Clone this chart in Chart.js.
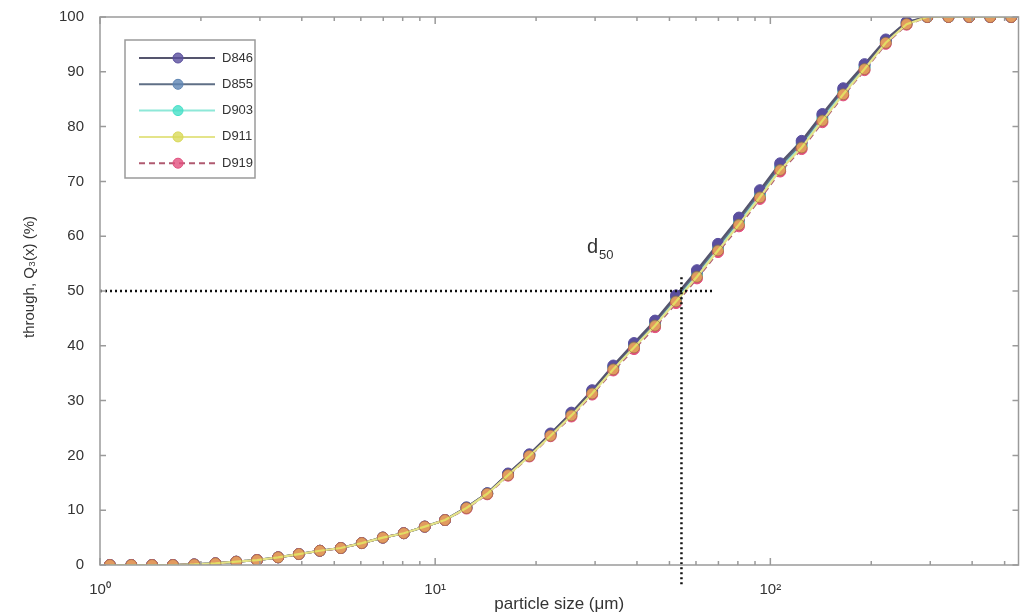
<!DOCTYPE html>
<html><head><meta charset="utf-8">
<script src="https://cdn.jsdelivr.net/npm/chart.js@4/dist/chart.umd.min.js"></script>
<style>html,body{margin:0;padding:0;background:#fff}#wrap{width:1025px;height:615px}</style>
</head><body><div id="wrap"><canvas id="c" width="1025" height="615"></canvas></div>
<script>
// particle size classes (µm)
const sizes = [1.07,1.24,1.43,1.65,1.91,2.21,2.55,2.94,3.40,3.92,4.53,5.23,6.04,6.98,8.06,9.31,
  10.7,12.4,14.3,16.5,19.1,22.1,25.5,29.4,34.0,39.2,45.3,52.3,60.4,69.8,80.6,93.1,
  107,124,143,165,191,221,255,294,340,392,453,523];
const seriesNames = ['D846','D855','D903','D911','D919'];
const d846 = [0,0,0,0,0.1,0.3,0.6,0.9,1.4,2.0,2.6,3.1,4.0,5.0,5.8,7.0,8.2,10.5,13.1,16.7,20.2,24.0,27.8,31.9,36.4,40.5,44.6,49.2,53.8,58.6,63.4,68.4,73.3,77.4,82.3,87.0,91.4,95.9,99.1,100,100,100,100,100];
const d855 = [0,0,0,0,0.1,0.3,0.6,0.9,1.4,2.0,2.6,3.1,4.0,5.0,5.8,7.0,8.2,10.5,13.1,16.6,20.1,23.9,27.7,31.7,36.2,40.3,44.3,48.9,53.4,58.2,63.0,68.0,72.9,77.0,82.0,86.7,91.1,95.7,99.0,100,100,100,100,100];
const d903 = [0,0,0,0,0.1,0.3,0.6,0.9,1.4,2.0,2.6,3.1,4.0,5.0,5.8,7.0,8.2,10.4,13.0,16.5,20.0,23.8,27.5,31.5,36.0,40.0,44.0,48.5,53.0,57.8,62.5,67.5,72.5,76.5,81.5,86.3,90.8,95.5,98.8,100,100,100,100,100];
const d911 = [0,0,0,0,0.1,0.3,0.6,0.9,1.4,2.0,2.6,3.1,4.0,5.0,5.8,7.0,8.2,10.4,13.0,16.4,19.9,23.6,27.3,31.3,35.7,39.7,43.7,48.1,52.6,57.4,62.1,67.1,72.1,76.2,81.1,85.9,90.5,95.3,98.7,100,100,100,100,100];
const d919 = [0,0,0,0,0.1,0.3,0.6,0.9,1.4,2.0,2.6,3.1,4.0,5.0,5.8,7.0,8.2,10.3,12.9,16.3,19.8,23.5,27.1,31.1,35.5,39.4,43.4,47.8,52.3,57.1,61.8,66.8,71.8,75.9,80.8,85.7,90.3,95.1,98.6,100,100,100,100,100];
const seriesValues = [d846,d855,d903,d911,d919];
const seriesColors = ['#5a4f9e','#5f86b4','#46e0c8','#d9d95a','#e2507e'];
const pointFills  = ['#5a4f9e','#5f86b4','#46e0c8','rgba(225,215,70,0.55)','#e2507e'];
const lineColors = ['#55556e','#5f6f86','#8ee8d8','#e4e48a','#b05a70'];
const drawOrder = [3,4,5,1,2]; // lower = drawn later (on top)
const yTicks = [0,10,20,30,40,50,60,70,80,90,100];
const xTickLabels = {1:'10⁰',10:'10¹',100:'10²'};
const d50 = 54.3, d50Pct = 50;
const xMin = 1, xMax = 550;

const datasets = seriesNames.map((n,k)=>({
  label:n,
  data: sizes.map((s,i)=>({x:s,y:seriesValues[k][i]})),
  borderColor: lineColors[k],
  borderWidth: 2.2,
  borderDash: k===4 ? [6,4] : [],
  pointRadius: 5.5,
  pointBackgroundColor: pointFills[k],
  pointBorderColor: k===3 ? 'rgba(150,110,60,0.6)' : seriesColors[k],
  pointBorderWidth: 1,
  showLine: true,
  order: drawOrder[k]
}));
datasets.push({label:'_h', data:[{x:xMin,y:d50Pct},{x:67,y:d50Pct}], borderColor:'#111', borderWidth:2.5, borderDash:[2,3], pointRadius:0, showLine:true, order:0});
datasets.push({label:'_v', data:[{x:d50,y:52.5},{x:d50,y:-4}], borderColor:'#111', borderWidth:2.5, borderDash:[2,3], pointRadius:0, showLine:true, order:0, clip:false});

const FONT = '"Liberation Sans", Arial, sans-serif';
const decor = {
  id:'decor',
  afterDraw(chart){
    const ctx = chart.ctx, a = chart.chartArea, xs = chart.scales.x, ys = chart.scales.y;
    ctx.save();
    ctx.strokeStyle = '#9a9a9a'; ctx.lineWidth = 1.5;
    ctx.strokeRect(a.left, a.top, a.right-a.left, a.bottom-a.top);
    ctx.beginPath();
    yTicks.forEach(v=>{ const p = ys.getPixelForValue(v);
      ctx.moveTo(a.left,p); ctx.lineTo(a.left+6,p);
      ctx.moveTo(a.right,p); ctx.lineTo(a.right-6,p); });
    for (let dec=1; dec<=100; dec*=10){
      for (let m=1; m<=9; m++){
        const v = dec*m; if (v<xMin||v>xMax) continue;
        const p = xs.getPixelForValue(v), L = m===1?7:4;
        ctx.moveTo(p,a.bottom); ctx.lineTo(p,a.bottom-L);
        ctx.moveTo(p,a.top); ctx.lineTo(p,a.top+L);
      }
    }
    ctx.stroke();
    ctx.fillStyle = '#333';
    ctx.font = '17px ' + FONT;
    ctx.textAlign = 'center'; ctx.textBaseline = 'middle';
    ctx.fillText('particle size (μm)', (a.left+a.right)/2, 604);
    ctx.font = '15px ' + FONT;
    ctx.save(); ctx.translate(30,(a.top+a.bottom)/2-14); ctx.rotate(-Math.PI/2);
    ctx.fillText('through, Q₃(x) (%)', 0, 0); ctx.restore();
    const lx = xs.getPixelForValue(30), ly = ys.getPixelForValue(57);
    ctx.textAlign = 'left'; ctx.textBaseline = 'alphabetic';
    ctx.font = '20px ' + FONT;
    ctx.fillText('d', lx-8, ly);
    ctx.font = '13px ' + FONT;
    ctx.fillText('50', lx+4, ly+6);
    const bx=125, by=40, bw=130, bh=138;
    ctx.fillStyle='#fff'; ctx.fillRect(bx,by,bw,bh);
    ctx.strokeStyle='#9a9a9a'; ctx.lineWidth=1.5; ctx.strokeRect(bx,by,bw,bh);
    seriesNames.forEach((n,k)=>{
      const yy = by+18+k*26.3;
      ctx.strokeStyle = lineColors[k]; ctx.lineWidth=2; ctx.setLineDash(k===4?[6,4]:[]);
      ctx.beginPath(); ctx.moveTo(bx+14,yy); ctx.lineTo(bx+90,yy); ctx.stroke();
      ctx.setLineDash([]);
      ctx.beginPath(); ctx.arc(bx+53,yy,5,0,Math.PI*2);
      ctx.fillStyle = seriesColors[k]+'cc'; ctx.fill();
      ctx.strokeStyle = seriesColors[k]; ctx.lineWidth=1; ctx.stroke();
      ctx.fillStyle='#333'; ctx.font='13px ' + FONT;
      ctx.textBaseline='middle'; ctx.fillText(n, bx+97, yy);
    });
    ctx.restore();
  }
};

new Chart(document.getElementById('c'), {
  type:'scatter',
  data:{datasets},
  options:{
    responsive:false, animation:false,
    layout:{padding:{top:17,right:5,left:0,bottom:0}},
    plugins:{legend:{display:false}, tooltip:{enabled:false}},
    scales:{
      x:{type:'logarithmic', min:xMin, max:xMax,
         grid:{display:false}, border:{display:false},
         afterBuildTicks(s){ s.ticks = [1,10,100].map(v=>({value:v})); },
         ticks:{autoSkip:false, maxRotation:0, padding:8, color:'#333',
           font:{family:FONT, size:15},
           callback:(v)=>xTickLabels[v]||''},
         afterFit(s){ s.height = 50; }},
      y:{min:0, max:100,
         grid:{display:false}, border:{display:false},
         afterBuildTicks(s){ s.ticks = yTicks.map(v=>({value:v})); },
         ticks:{padding:8, color:'#333',
           font:{family:FONT, size:15}},
         afterFit(s){ s.width = 100; }}
    }
  },
  plugins:[decor]
});
</script></body></html>
